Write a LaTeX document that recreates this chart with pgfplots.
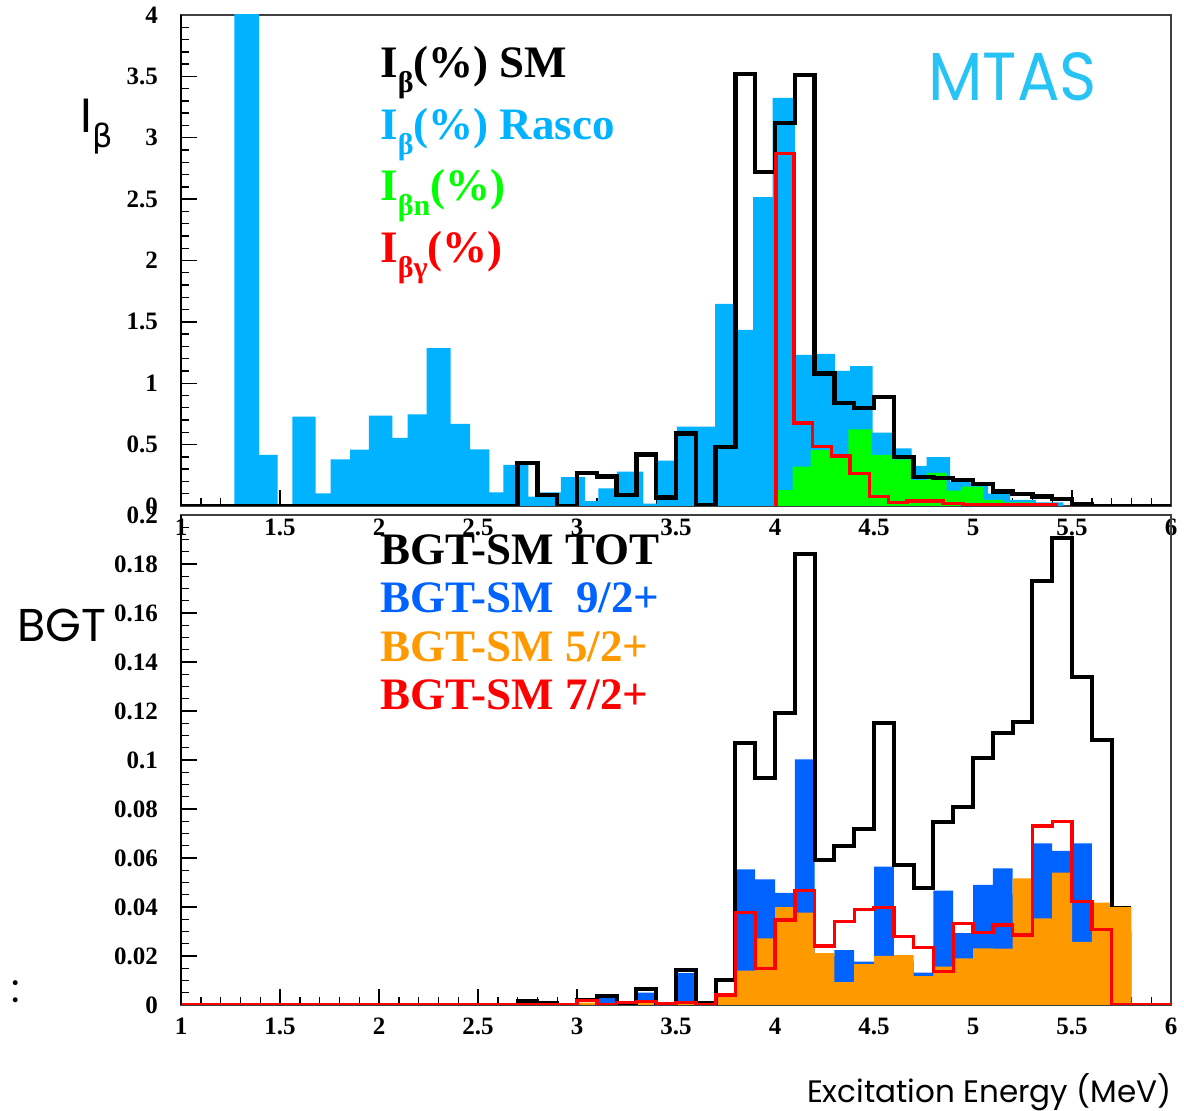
\documentclass[border=0pt]{standalone}
\usepackage{fontspec}
\setmainfont{Liberation Serif}
\newfontfamily\gothic{Poppins}
\newfontfamily\dejavu{DejaVu Sans}
\usepackage{pgfplots}
\pgfplotsset{compat=1.18}
\definecolor{rasco}{RGB}{0,178,255}
\definecolor{mtas}{RGB}{40,195,245}
\definecolor{bgtblue}{RGB}{0,98,255}
\definecolor{bgtorange}{RGB}{255,153,0}
\definecolor{rgreen}{RGB}{0,255,0}
\definecolor{rred}{RGB}{255,0,0}
\pgfplotsset{rootaxis/.style={
  scale only axis, width=495pt, xmin=1, xmax=6,
  xtick={1,1.5,2,2.5,3,3.5,4,4.5,5,5.5,6}, minor x tick num=4,
  tick align=inside, xtick pos=left, ytick pos=left,
  tick style={black, line width=0.7pt},
  major tick length=8pt, minor tick length=4pt,
  /pgf/number format/assume math mode=true,
  ticklabel style={font=\bfseries\fontsize{12.5}{12.5}\selectfont},
  scaled ticks=false,
  axis line style={black!75, line width=0.7pt},
  xticklabel style={yshift=-3pt},
  yticklabel style={xshift=-8pt},
  after end axis/.code={\draw[black, line width=1.1pt] (rel axis cs:0,1) -- (rel axis cs:0,0);},
}}
\begin{document}
\begin{tikzpicture}
\useasboundingbox (0,0) rectangle (592pt,555.5pt);
% ---------------- top panel ----------------
\begin{axis}[rootaxis, at={(90.5pt,302.5pt)}, anchor=south west,
  height=245.5pt, ymin=0, ymax=4,
  ytick={0,0.5,1,1.5,2,2.5,3,3.5,4}, minor y tick num=4]
% Rasco (light blue)
\addplot[const plot, fill=rasco, draw=none] coordinates {
(1.269,4.6) (1.394,0.416) (1.488,0) (1.562,0.728) (1.680,0.103) (1.756,0.38)
(1.854,0.46) (1.949,0.736) (2.067,0.554) (2.145,0.747) (2.241,1.285) (2.362,0.668)
(2.460,0.462) (2.557,0.11) (2.628,0.334) (2.754,0.076) (2.800,0.11) (2.919,0.236)
(3.040,0.04) (3.108,0.144) (3.202,0.28) (3.335,0.02) (3.403,0.37) (3.504,0.646)
(3.697,1.646) (3.798,1.434) (3.890,2.517) (3.988,3.325) (4.101,1.23) (4.207,1.24)
(4.303,1.10) (4.379,1.14) (4.493,0.598) (4.597,0.47) (4.690,0.326) (4.766,0.397)
(4.884,0.198) (4.985,0.19) (5.077,0.10) (5.187,0.05) (5.318,0.03) (5.456,0)
} \closedcycle;
% I_beta n (green)
\addplot[const plot, fill=rgreen, draw=none] coordinates {
(4.0,0.13) (4.089,0.32) (4.180,0.456) (4.274,0.40) (4.370,0.625) (4.488,0.416)
(4.589,0.38) (4.690,0.21) (4.766,0.27) (4.867,0.125) (4.943,0.157) (5.052,0.05)
(5.152,0.03) (5.303,0.02) (5.404,0)
} \closedcycle;
% SM (black)
\addplot[const plot, black, line width=2.2pt, line join=miter] coordinates {
(1,0) (2.7,0.35) (2.8,0.09) (2.9,0) (3.0,0.27) (3.1,0.24) (3.2,0.09) (3.3,0.42)
(3.4,0.07) (3.5,0.59) (3.6,0.01) (3.7,0.48) (3.8,3.52) (3.9,2.72) (4.0,3.12)
(4.1,3.51) (4.2,1.08) (4.3,0.84) (4.4,0.80) (4.5,0.886) (4.6,0.40) (4.7,0.234)
(4.8,0.23) (4.9,0.21) (5.0,0.18) (5.1,0.117) (5.2,0.098) (5.3,0.076) (5.4,0.055)
(5.5,0.016) (5.6,0) (6,0)
};
% I_beta gamma (red)
\addplot[const plot, rred, line width=1.8pt, line join=miter] coordinates {
(4.004,0) (4.004,2.87) (4.096,0.674) (4.190,0.483) (4.286,0.407) (4.379,0.266)
(4.477,0.076) (4.573,0.027) (4.666,0.04) (4.849,0.02) (4.950,0.01) (5.419,0)
};
\end{axis}
% ---------------- bottom panel ----------------
\begin{axis}[rootaxis, at={(90.5pt,53pt)}, anchor=south west,
  height=245pt, ymin=0, ymax=0.2,
  ytick={0,0.02,0.04,0.06,0.08,0.1,0.12,0.14,0.16,0.18,0.2}, minor y tick num=3,
  yticklabel style={/pgf/number format/fixed, /pgf/number format/precision=2}]
% 9/2+ (blue)
\addplot[const plot, fill=bgtblue, draw=none] coordinates {
(2.8,0.001) (2.9,0) (3.1,0.0036) (3.2,0) (3.3,0.005) (3.4,0) (3.5,0.013) (3.6,0.001)
(3.7,0.003) (3.8,0.0554) (3.9,0.0513) (4.0,0.0458) (4.1,0.1003) (4.2,0.02) (4.3,0.0224)
(4.4,0.0177) (4.5,0.0565) (4.6,0.018) (4.7,0.0132) (4.8,0.0467) (4.9,0.0293) (5.0,0.049)
(5.1,0.0558) (5.2,0.045) (5.3,0.066) (5.4,0.0629) (5.5,0.066) (5.6,0.03) (5.7,0.03) (5.8,0)
} \closedcycle;
% 5/2+ (orange)
\addplot[const plot, fill=bgtorange, draw=none] coordinates {
(2.7,0.0016) (2.8,0) (3.0,0.001) (3.1,0) (3.2,0.0005) (3.3,0.001) (3.4,0) (3.5,0.0005)
(3.6,0) (3.7,0.0035) (3.8,0.014) (3.9,0.0272) (4.0,0.0399) (4.1,0.0377) (4.2,0.0212)
(4.3,0.0093) (4.4,0.0167) (4.5,0.0200) (4.6,0.0204) (4.7,0.0118) (4.8,0.0157) (4.9,0.019)
(5.0,0.0231) (5.1,0.023) (5.2,0.0517) (5.3,0.0354) (5.4,0.054) (5.5,0.0258) (5.6,0.0418)
(5.7,0.0401) (5.8,0)
} \closedcycle;
% TOT (black)
\addplot[const plot, black, line width=2pt, line join=miter] coordinates {
(1,0) (2.7,0.0016) (2.8,0.001) (2.9,0) (3.0,0.002) (3.1,0.0037) (3.2,0) (3.3,0.0064)
(3.4,0) (3.5,0.0143) (3.6,0.001) (3.7,0.0102) (3.8,0.107) (3.9,0.0925) (4.0,0.119)
(4.1,0.184) (4.2,0.059) (4.3,0.065) (4.4,0.072) (4.5,0.115) (4.6,0.0571) (4.7,0.0476)
(4.8,0.0748) (4.9,0.081) (5.0,0.1007) (5.1,0.111) (5.2,0.1157) (5.3,0.1732)
(5.4,0.1905) (5.5,0.1337) (5.6,0.1082) (5.7,0.0401)
};
\addplot[const plot, black, line width=0.6pt] coordinates {(5.7,0.0401) (5.8,0.0401)};
% 7/2+ (red)
\addplot[const plot, rred, line width=1.7pt, line join=miter] coordinates {
(1,0) (3.0,0.0018) (3.1,0) (3.2,0.001) (3.3,0.0014) (3.4,0.0004) (3.5,0.001) (3.6,0)
(3.7,0.004) (3.8,0.0377) (3.9,0.015) (4.0,0.0347) (4.1,0.0467) (4.2,0.0241) (4.3,0.034)
(4.4,0.039) (4.5,0.0399) (4.6,0.0279) (4.7,0.0235) (4.8,0.0136) (4.9,0.0333) (5.0,0.0295)
(5.1,0.0327) (5.2,0.0286) (5.3,0.0731) (5.4,0.0748) (5.5,0.0422) (5.6,0.0309) (5.7,0) (6,0)
};
\end{axis}
% ---------------- texts ----------------
\def\legfont{\bfseries\fontsize{22.5}{22.5}\selectfont}
\def\subfont{\fontsize{15}{15}\selectfont}
\node[anchor=base west, inner sep=0pt, text=black] at (190pt,516.5pt)
  {\legfont I\raisebox{-0.32em}{\subfont β}(\%) SM};
\node[anchor=base west, inner sep=0pt, text=rasco] at (190pt,485.5pt)
  {\legfont I\raisebox{-0.32em}{\subfont β}(\%) Rasco};
\node[anchor=base west, inner sep=0pt, text=rgreen] at (190pt,455pt)
  {\legfont I\raisebox{-0.32em}{\subfont βn}(\%)};
\node[anchor=base west, inner sep=0pt, text=rred] at (190pt,424pt)
  {\legfont I\raisebox{-0.32em}{\subfont βγ}(\%)};
\node[anchor=base west, inner sep=0pt, text=black] at (190pt,273pt)
  {\legfont BGT-SM TOT};
\node[anchor=base west, inner sep=0pt, text=bgtblue] at (190pt,249pt)
  {\legfont BGT-SM\ \ 9/2+};
\node[anchor=base west, inner sep=0pt, text=bgtorange] at (190pt,224.5pt)
  {\legfont BGT-SM 5/2+};
\node[anchor=base west, inner sep=0pt, text=rred] at (190pt,200.5pt)
  {\legfont BGT-SM 7/2+};
\node[anchor=base west, inner sep=0pt, text=mtas] at (464pt,505pt)
  {\scalebox{0.93}[1]{\gothic\fontsize{34}{34}\selectfont MTAS}};
\node[anchor=base west, inner sep=0pt] at (40pt,489pt)
  {\gothic\fontsize{24}{24}\selectfont I\raisebox{-0.3em}{\dejavu\fontsize{16}{16}\selectfont β}};
\node[anchor=base west, inner sep=0pt] at (8.5pt,234.5pt)
  {\gothic\fontsize{23}{23}\selectfont BGT};
\node[anchor=base east, inner sep=0pt] at (586pt,4pt)
  {\gothic\fontsize{15.5}{15.5}\selectfont Excitation Energy (MeV)};
\node[anchor=base west, inner sep=0pt] at (5.5pt,54pt)
  {\gothic\fontsize{20}{20}\selectfont :};
\end{tikzpicture}
\end{document}
